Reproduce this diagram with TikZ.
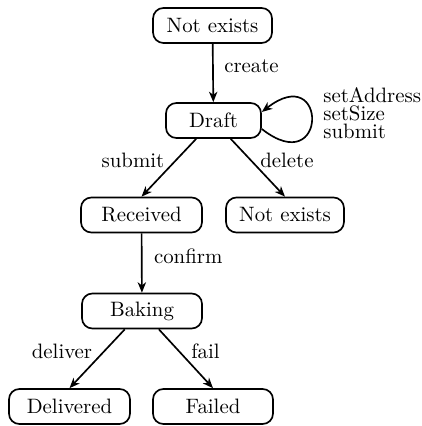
\documentclass[tikz,border=0pt]{standalone}
\usetikzlibrary{arrows.meta}
\begin{document}
\begin{tikzpicture}[x=0.48pt,y=0.48pt,
  state/.style={draw, thick, rounded corners=5pt, minimum height=16.8pt,
    inner sep=0pt, font=\fontsize{10pt}{12pt}\selectfont},
  trans/.style={thick, -{Stealth[length=5pt,width=4pt,inset=1.5pt]}},
  lbl/.style={inner sep=0pt, font=\fontsize{10pt}{12pt}\selectfont}
]
\useasboundingbox (0,0) rectangle (421,-426);

% states
\node[state, minimum width=57.1pt] (start)     at (212.5,-25.5)  {Not exists};
\node[state, minimum width=45.6pt] (draft)     at (213.5,-120.5) {Draft};
\node[state, minimum width=58.1pt] (received)  at (141.5,-215)   {Received};
\node[state, minimum width=56.6pt] (deleted)   at (285,-215)     {Not exists};
\node[state, minimum width=57.6pt] (baking)    at (142,-311)     {Baking};
\node[state, minimum width=58.1pt] (delivered) at (69.5,-406.5)  {Delivered};
\node[state, minimum width=57.6pt] (failed)    at (213,-406.5)   {Failed};

% transitions
\draw[trans] (start) -- node[lbl, pos=0.49, anchor=base west, xshift=5pt] {create} (draft);
\draw[trans] (draft.-10) .. controls +(-38:84) and +(38:84) .. (draft.10);
\node[lbl, anchor=north west, align=left, font=\fontsize{10pt}{8.7pt}\selectfont]
  (loopnote) at (323,-87.2) {setAddress\\setSize\\submit};
\draw[trans] (draft) -- node[lbl, pos=0.5, anchor=base east, xshift=-1.8pt] {submit} (received.north);
\draw[trans] (draft) -- node[lbl, pos=0.5, anchor=base west, xshift=0.8pt] {delete} (deleted.north);
\draw[trans] (received) -- node[lbl, pos=0.5, anchor=base west, xshift=5.5pt] {confirm} (baking);
\draw[trans] (baking) -- node[lbl, pos=0.5, anchor=base east, xshift=-2pt] {deliver} (delivered.north);
\draw[trans] (baking) -- node[lbl, pos=0.5, anchor=base west, xshift=2.2pt] {fail} (failed.north);
\end{tikzpicture}
\end{document}
